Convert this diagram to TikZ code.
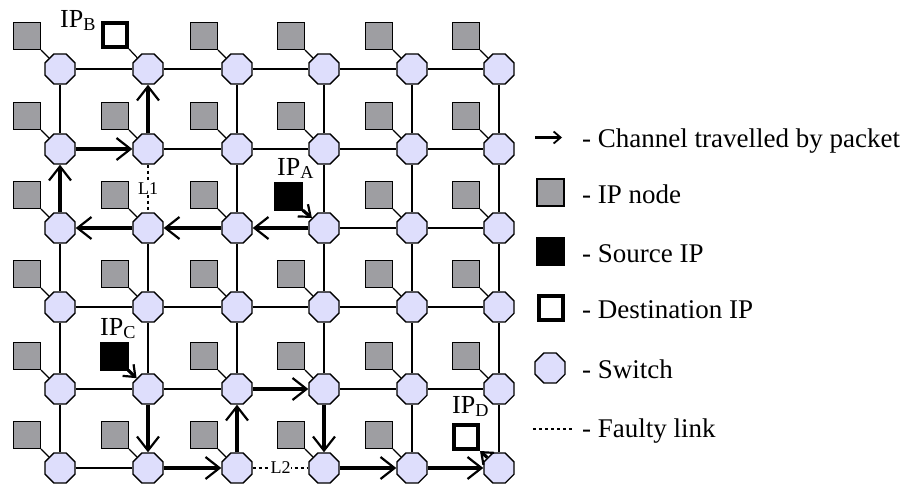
\documentclass[tikz,border=0pt]{standalone}
\usepackage{fontspec}
\setmainfont{Liberation Serif}
\usetikzlibrary{shapes.geometric,arrows.meta}
\definecolor{swfill}{RGB}{222,222,252}
\definecolor{ipgray}{RGB}{158,158,162}
\begin{document}
\begin{tikzpicture}[x=1pt,y=-1pt,
  sw/.style={regular polygon, regular polygon sides=8, minimum size=32.5pt, inner sep=0pt, draw, line width=1.4pt, fill=swfill},
  ipn/.style={rectangle, minimum size=27pt, inner sep=0pt, draw, line width=1.2pt, fill=ipgray},
  src/.style={rectangle, minimum size=28pt, inner sep=0pt, fill=black, draw=black},
  dst/.style={rectangle, minimum size=24pt, inner sep=0pt, draw, line width=4pt, fill=white},
  link/.style={line width=1.2pt},
  fault/.style={line width=1.1pt, dash pattern=on 3pt off 3pt},
  pkt/.style={line width=3.8pt, -{Straight Barb[length=14pt,width=22pt,line width=2.2pt]}},
  pkts/.style={line width=3.2pt, -{Straight Barb[length=10pt,width=16pt,line width=2.2pt]}},
  lab/.style={font=\fontsize{26}{30}\selectfont, inner sep=0pt, anchor=base west},
  leg/.style={font=\fontsize{27}{30}\selectfont, inner sep=0pt, anchor=base west},
  flab/.style={font=\fontsize{18}{20}\selectfont, fill=white, inner sep=1pt},
]
\path[use as bounding box] (0,0) rectangle (903,485);

% switches
\foreach \c/\x in {1/60,2/148,3/237,4/324,5/412,6/499}
  \foreach \r/\y in {1/69,2/149,3/228,4/307,5/389,6/468}
    \node[sw] (s\r\c) at (\x,\y) {};

% plain IP nodes
\foreach \r in {1,...,6} {
  \foreach \c in {1,...,6} {
    \edef\kk{\r\c}
    \ifnum\kk=12 \else\ifnum\kk=34 \else\ifnum\kk=52 \else\ifnum\kk=66 \else
      \node[ipn] (p\r\c) at ([shift={(-33,-33)}]s\r\c.center) {};
      \draw[link] (p\r\c.south east) -- (s\r\c);
    \fi\fi\fi\fi
  }
}

% special IPs
\node[dst] (pB) at (115,35) {};
\draw[link] (pB.south east) -- (s12);
\node[src] (pA) at (288.5,196) {};
\node[src] (pC) at (114,356) {};
\node[dst] (pD) at (466,437) {};

\node[lab] (lA) at (277,175) {IP\textsubscript{A}};
\node[lab] (lB) at (60,27) {IP\textsubscript{B}};
\node[lab] (lC) at (100,335) {IP\textsubscript{C}};
\node[lab] (lD) at (452,413) {IP\textsubscript{D}};

% thin links
\foreach \a/\b in {11/12,12/13,13/14,14/15,15/16,
                   22/23,23/24,24/25,25/26,
                   34/35,35/36,
                   41/42,42/43,43/44,44/45,45/46,
                   51/52,52/53,54/55,55/56,
                   61/62,
                   11/21,31/41,41/51,51/61,
                   32/42,42/52,
                   13/23,23/33,33/43,43/53,
                   14/24,24/34,34/44,44/54,
                   15/25,25/35,35/45,45/55,55/65,
                   16/26,26/36,36/46,46/56,56/66}
  \draw[link] (s\a) -- (s\b);

% faulty links
\draw[fault] (s22) -- node[flab] (L1) {L1} (s32);
\draw[fault] (s63) -- node[flab] (L2) {L2} (s64);

% packet route 1
\draw[pkts] (pA.south east) -- (s34);
\draw[pkt] (s34) -- (s33);
\draw[pkt] (s33) -- (s32);
\draw[pkt] (s32) -- (s31);
\draw[pkt] (s31) -- (s21);
\draw[pkt] (s21) -- (s22);
\draw[pkt] (s22) -- (s12);

% packet route 2
\draw[pkts] (pC.south east) -- (s52);
\draw[pkt] (s52) -- (s62);
\draw[pkt] (s62) -- (s63);
\draw[pkt] (s63) -- (s53);
\draw[pkt] (s53) -- (s54);
\draw[pkt] (s54) -- (s64);
\draw[pkt] (s64) -- (s65);
\draw[pkt] (s65) -- (s66);
\draw[pkts] (s66) -- (pD.south east);

% legend
\coordinate (la1) at (535,137.5);
\coordinate (la2) at (562,137.5);
\draw[line width=2.5pt, -{Straight Barb[length=7pt,width=12pt,line width=1.8pt]}] (la1) -- (la2);
\node[leg] (t1) at (582,147) {- Channel travelled by packet};
\node[ipn] (g1) at (550.5,192.5) {};
\node[leg] (t2) at (582,203) {- IP node};
\node[src] (g2) at (550.5,251.5) {};
\node[leg] (t3) at (582,262) {- Source IP};
\node[dst] (g3) at (550.5,307.5) {};
\node[leg] (t4) at (582,318) {- Destination IP};
\node[sw] (g4) at (550,368) {};
\node[leg] (t5) at (582,378) {- Switch};
\coordinate (lf1) at (533,429);
\coordinate (lf2) at (572,429);
\draw[fault] (lf1) -- (lf2);
\node[leg] (t6) at (582,437) {- Faulty link};
\end{tikzpicture}
\end{document}
